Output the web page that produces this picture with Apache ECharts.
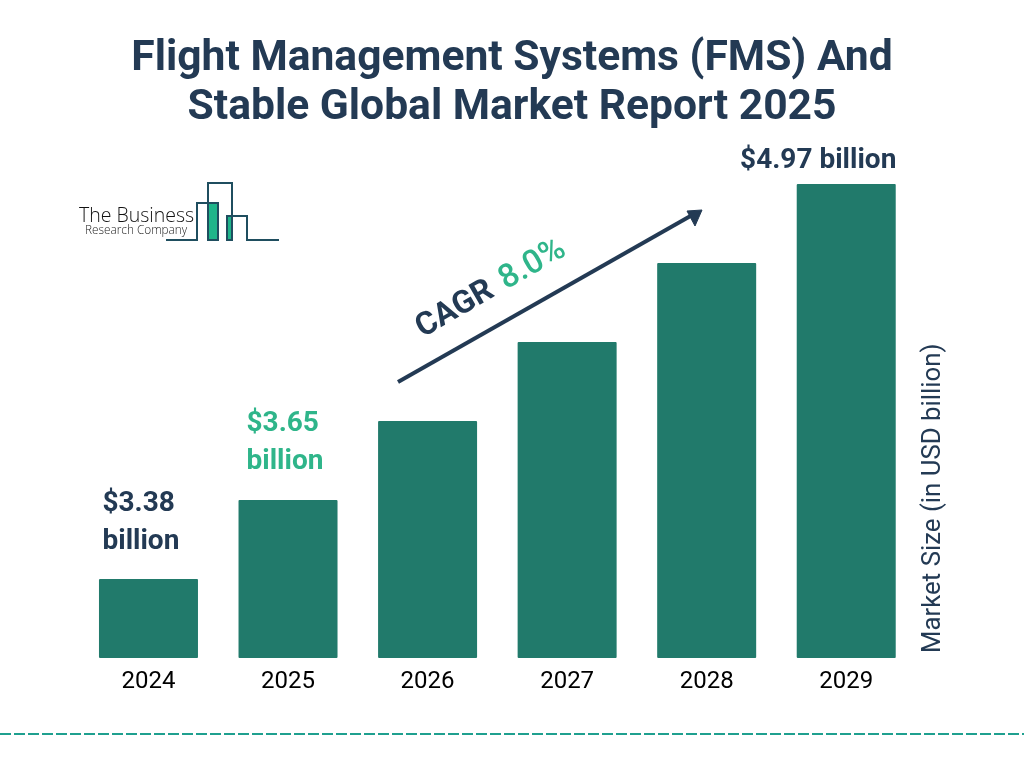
<!DOCTYPE html>
<html>
<head>
<meta charset="utf-8">
<style>
  html, body { margin: 0; padding: 0; background: #fff; }
  #chart { width: 1024px; height: 768px; }
</style>
<script src="https://cdn.jsdelivr.net/npm/echarts@6/dist/echarts.min.js"></script>
</head>
<body>
<div id="chart"></div>
<script>
var titleLines = ["Flight Management Systems (FMS) And", "Stable Global Market Report 2025"];
var years = ["2024", "2025", "2026", "2027", "2028", "2029"];
// the reference has no value axis and its bars climb in even steps, not in
// proportion to the printed dollar figures, so these are relative heights
var barSteps = [1, 2, 3, 4, 5, 6];
var valueLabels = ["$3.38\nbillion", "$3.65\nbillion", "", "", "", "$4.97 billion"];
var axisTitle = "Market Size (in USD billion)";

var NAVY = "#233a54";
var BAR = "#217a6b";
var GREEN = "#2fb58a";
var LOGO = "#1f4e5f";

// per-bar label placement, only the three labelled bars need one
var labelStyles = {
  0: { color: NAVY, align: "left", offset: [-46, 0], distance: 18 },
  1: { color: GREEN, align: "left", offset: [-41.5, 0], distance: 19 },
  5: { color: NAVY, align: "center", offset: [-28, 0], distance: 4 }
};

var barData = barSteps.map(function (v, i) {
  var item = { value: v };
  if (labelStyles[i]) {
    item.label = Object.assign({ show: true, position: "top", formatter: valueLabels[i] }, labelStyles[i]);
  }
  return item;
});

var chart = echarts.init(document.getElementById("chart"), null, { width: 1024, height: 768 });

chart.setOption({
  backgroundColor: "#fff",
  animation: false,
  textStyle: { fontFamily: "Roboto" },
  title: {
    text: titleLines.join("\n"),
    left: 507,
    top: 30,
    textAlign: "center",
    textStyle: { color: NAVY, fontSize: 42.6, fontWeight: "bold", lineHeight: 49, fontFamily: "Roboto" }
  },
  grid: { left: 78.7, right: 108, top: 184, bottom: 110, outerBoundsMode: "none" },
  xAxis: {
    type: "category",
    data: years,
    axisLine: { show: false },
    axisTick: { show: false },
    axisLabel: { color: "#000", fontSize: 24, margin: 12, fontFamily: "Roboto" }
  },
  yAxis: {
    type: "value",
    min: 0,
    max: 6,
    interval: 1,
    position: "right",
    offset: 18,
    name: axisTitle,
    nameLocation: "start",
    nameRotate: 90,
    nameGap: -5,
    nameTextStyle: { color: NAVY, fontSize: 25.8, fontFamily: "Roboto", align: "left", verticalAlign: "middle" },
    axisLine: { show: false },
    axisTick: { show: false },
    axisLabel: { show: false },
    splitLine: { show: false }
  },
  series: [
    {
      type: "bar",
      data: barData,
      barWidth: 99,
      itemStyle: { color: BAR, borderRadius: 1 },
      label: { fontSize: 28, fontWeight: "bold", lineHeight: 38, fontFamily: "Roboto" }
    }
  ],
  graphic: [
    // CAGR arrow
    {
      type: "line",
      shape: { x1: 398, y1: 382, x2: 694, y2: 214 },
      style: { stroke: NAVY, lineWidth: 4 }
    },
    {
      type: "polygon",
      shape: { points: [[702, 210], [687, 211], [695, 226]] },
      style: { fill: NAVY, stroke: NAVY, lineWidth: 1, lineJoin: "round" }
    },
    {
      type: "text",
      x: 491,
      y: 289,
      rotation: (30 * Math.PI) / 180,
      style: {
        text: "{a|CAGR}  {b|8.0%}",
        align: "center",
        verticalAlign: "middle",
        rich: {
          a: { fontSize: 32, fontWeight: "bold", fill: NAVY, fontFamily: "Roboto", padding: [0, 5, 0, 0] },
          b: { fontSize: 33, fontWeight: 500, fill: GREEN, fontFamily: "Roboto" }
        }
      }
    },
    // logo
    {
      type: "polyline",
      shape: { points: [[166, 240], [197, 240], [197, 203], [218, 203], [218, 240], [208, 240], [208, 183], [232, 183], [232, 240], [227, 240], [227, 216], [247, 216], [247, 240], [279, 240]] },
      style: { stroke: LOGO, lineWidth: 2, fill: null }
    },
    { type: "rect", shape: { x: 209, y: 204, width: 8, height: 35 }, style: { fill: "#1fb58a" } },
    { type: "rect", shape: { x: 228, y: 217, width: 3, height: 22 }, style: { fill: "#1fb58a" } },
    {
      type: "text",
      x: 79,
      y: 216,
      style: { text: "The Business", fontSize: 19.5, fill: "#111", verticalAlign: "middle", fontFamily: "Open Sans", fontWeight: 300 }
    },
    {
      type: "text",
      x: 85,
      y: 231,
      style: { text: "Research Company", fontSize: 11.8, fill: "#222", verticalAlign: "middle", fontFamily: "Open Sans", fontWeight: 300 }
    },
    // footer rule
    {
      type: "line",
      shape: { x1: 0, y1: 734, x2: 1024, y2: 734 },
      style: { stroke: "#1fa08f", lineWidth: 2, lineDash: [11, 3] }
    }
  ]
});
</script>
</body>
</html>
